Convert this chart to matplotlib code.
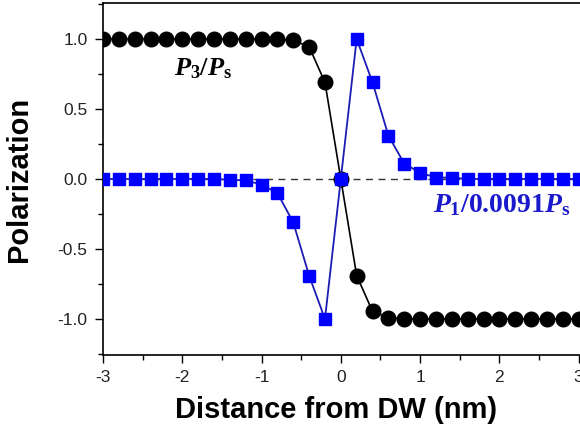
import numpy as np
import matplotlib
matplotlib.use("Agg")
import matplotlib.pyplot as plt
from matplotlib.ticker import MultipleLocator

plt.rcParams['axes.unicode_minus'] = False
plt.rcParams['font.family'] = ['Liberation Sans', 'DejaVu Sans']
plt.rcParams['mathtext.fontset'] = 'custom'
plt.rcParams['mathtext.rm'] = 'Liberation Serif:bold'
plt.rcParams['mathtext.it'] = 'Liberation Serif:bold:italic'
plt.rcParams['mathtext.bf'] = 'Liberation Serif:bold'

# Data
x_pos = [-3.0, -2.8, -2.6, -2.4, -2.2, -2.0, -1.8, -1.6, -1.4, -1.2, -1.0,
         -0.8, -0.6, -0.4, -0.2, 0.0, 0.2, 0.4, 0.6, 0.8, 1.0,
         1.2, 1.4, 1.6, 1.8, 2.0, 2.2, 2.4, 2.6, 2.8, 3.0]
p3 = [1.0, 1.0, 1.0, 1.0, 1.0, 1.0, 1.0, 1.0, 1.0, 1.0, 1.0,
      1.0, 0.99, 0.945, 0.69, 0.0, -0.69, -0.945, -0.99, -1.0, -1.0,
      -1.0, -1.0, -1.0, -1.0, -1.0, -1.0, -1.0, -1.0, -1.0, -1.0]
p1 = [0.0, 0.0, 0.0, 0.0, 0.0, 0.0, 0.0, 0.0, -0.005, -0.01, -0.04,
      -0.10, -0.31, -0.69, -1.0, 0.0, 1.0, 0.69, 0.31, 0.11, 0.045,
      0.01, 0.01, 0.0, 0.0, 0.0, 0.0, 0.0, 0.0, 0.0, 0.0]
x_ticks = [-3, -2, -1, 0, 1, 2, 3]
y_ticks = [-1.0, -0.5, 0.0, 0.5, 1.0]

fig = plt.figure(figsize=(5.8, 4.3), dpi=100)
ax = fig.add_axes([103/580, 1-355/430, (582.6-103)/580, (355-3)/430])

ax.axhline(0, color='#333333', lw=1.0, ls=(0, (5, 4)), zorder=1)
ax.plot(x_pos, p3, color='black', lw=1.2, marker='o', ms=10.5,
        mfc='black', mec='black', zorder=3)
ax.plot(x_pos, p1, color='#1c1cb4', lw=1.3, marker='s', ms=9,
        mfc='#0000ff', mec='#0000ff', zorder=4)

ax.set_xlim(-3, 3.05)
ax.set_ylim(-1.257, 1.257)
ax.set_xticks(x_ticks)
ax.set_xticklabels([str(t) for t in x_ticks])
ax.set_yticks(y_ticks)
ax.set_yticklabels(['%.1f' % t for t in y_ticks])
ax.xaxis.set_minor_locator(MultipleLocator(0.5))
ax.yaxis.set_minor_locator(MultipleLocator(0.25))
ax.tick_params(which='major', direction='out', length=6, width=1.0,
               labelsize=12.5, labelcolor='#222222', pad=5)
ax.tick_params(which='minor', direction='out', length=3.5, width=1.0)
for s in ax.spines.values():
    s.set_linewidth(1.2)

ax.set_xlabel('Distance from DW (nm)', fontsize=21, fontweight='bold')
ax.set_ylabel('Polarization', fontsize=21, fontweight='bold')
ax.xaxis.set_label_coords((336-103)/(582.6-103), -0.117)
ax.yaxis.set_label_coords(-0.146, 0.5)

ax.text(-2.1, 0.79, r'$P_3/P_\mathrm{s}$', fontsize=19, color='black',
        ha='left', va='center')
ax.text(1.16, -0.186, r'$P_1/0.0091P_\mathrm{s}$', fontsize=20, color='#1a1acc',
        ha='left', va='center')

fig.savefig('out.png', dpi=100)
